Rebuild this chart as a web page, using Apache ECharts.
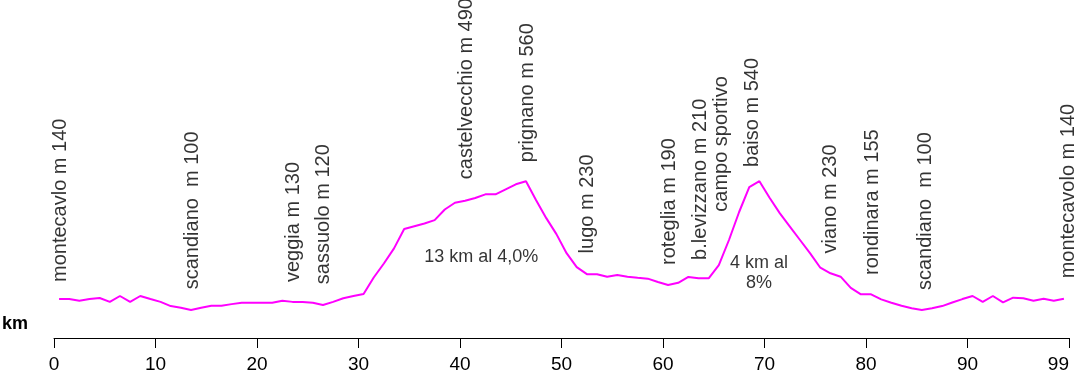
<!DOCTYPE html>
<html>
<head>
<meta charset="utf-8">
<script src="https://cdn.jsdelivr.net/npm/echarts@6/dist/echarts.min.js"></script>
<style>
html,body{margin:0;padding:0;background:#fff;}
#chart{width:1076px;height:371px;}
</style>
</head>
<body>
<div id="chart"></div>
<script>
// distance (km) of each profile point
const kmPoints = [0.5,1.5,2.5,3.5,4.5,5.5,6.5,7.5,8.5,9.5,
  10.5,11.5,12.5,13.5,14.5,15.5,16.5,17.5,18.5,19.5,
  20.5,21.5,22.5,23.5,24.5,25.5,26.5,27.5,28.5,29.5,
  30.5,31.5,32.5,33.5,34.5,35.5,36.5,37.5,38.5,39.5,
  40.5,41.5,42.5,43.5,44.5,45.5,46.5,47.5,48.5,49.5,
  50.5,51.5,52.5,53.5,54.5,55.5,56.5,57.5,58.5,59.5,
  60.5,61.5,62.5,63.5,64.5,65.5,66.5,67.5,68.5,69.5,
  70.5,71.5,72.5,73.5,74.5,75.5,76.5,77.5,78.5,79.5,
  80.5,81.5,82.5,83.5,84.5,85.5,86.5,87.5,88.5,89.5,
  90.5,91.5,92.5,93.5,94.5,95.5,96.5,97.5,98.5,99.5];
// elevation (m)
const elevation = [139,139,133,139,143,129,150,129,150,139,
  129,114,108,100,108,115,115,121,126,126,
  126,126,133,129,129,126,118,129,142,150,
  157,216,266,320,389,399,409,421,459,483,
  490,500,513,513,531,549,560,492,428,371,
  303,253,228,228,219,225,219,215,212,200,
  189,197,218,213,213,260,350,450,539,560,
  501,446,398,350,302,251,231,219,179,156,
  156,138,126,115,106,100,106,114,127,139,
  150,129,150,127,144,142,133,140,133,140];
// x axis tick labels (ticks at 0,10,...,100)
const tickLabels = ['0','10','20','30','40','50','60','70','80','90','99'];
// place names, with their anchor (km, m) in chart coordinates
const placeNames = ['montecavlo m 140','scandiano  m 100','veggia m 130','sassuolo m 120',
  'castelvecchio m 490','prignano m 560','lugo m 230','roteglia m 190','b.levizzano m 210',
  'campo sportivo','baiso m 540','viano m 230','rondinara m 155','scandiano  m 100','montecavolo m 140'];
const placeKm = [1.65,14.6,24.55,27.5,41.65,47.65,53.5,61.65,64.65,66.75,69.8,77.5,81.6,86.8,100.9];
const placeElev = [200,174,200,192,567,628,302,261,279,451,611,302,225,171,213];
// climb notes
const notes = ['13 km al 4,0%','4 km al\n8%'];
const noteKm = [42.1,69.45];
const noteElev = [290,233];

const chart = echarts.init(document.getElementById('chart'), null, {renderer:'canvas'});
const FONT = '"Liberation Sans", Arial, sans-serif';
chart.setOption({
  backgroundColor:'#ffffff',
  animation:false,
  grid:{left:54,right:7,top:30,bottom:33,containLabel:false,outerBoundsMode:'none'},
  xAxis:{
    type:'value',min:0,max:100,interval:10,
    axisLine:{lineStyle:{color:'#000',width:1}},
    axisTick:{length:10,lineStyle:{color:'#000',width:1}},
    splitLine:{show:false},
    axisLabel:{color:'#000',fontSize:19,fontFamily:FONT,margin:17,hideOverlap:false,
      alignMaxLabel:'right',
      formatter:function(v){return tickLabels[Math.round(v/10)];}}
  },
  yAxis:{type:'value',min:0,max:1100,show:false},
  graphic:[{type:'text',left:2,top:315,style:{text:'km',font:'bold 18px '+FONT,fill:'#000'}}],
  series:[
    {type:'line',data:kmPoints.map((k,i)=>[k,elevation[i]]),symbol:'none',
     lineStyle:{color:'#ff00ff',width:2},z:3},
    {type:'scatter',symbolSize:0,clip:false,silent:true,
     data:placeNames.map((n,i)=>({name:n,value:[placeKm[i],placeElev[i]]})),
     label:{show:true,formatter:'{b}',rotate:90,position:[0,0],align:'left',verticalAlign:'bottom',
       color:'#000',fontSize:20,fontFamily:FONT}},
    {type:'scatter',symbolSize:0,clip:false,silent:true,
     data:notes.map((n,i)=>({name:n,value:[noteKm[i],noteElev[i]]})),
     label:{show:true,formatter:'{b}',position:[0,0],align:'center',verticalAlign:'middle',
       color:'#000',fontSize:18,lineHeight:20,fontFamily:FONT}}
  ]
});
</script>
</body>
</html>
